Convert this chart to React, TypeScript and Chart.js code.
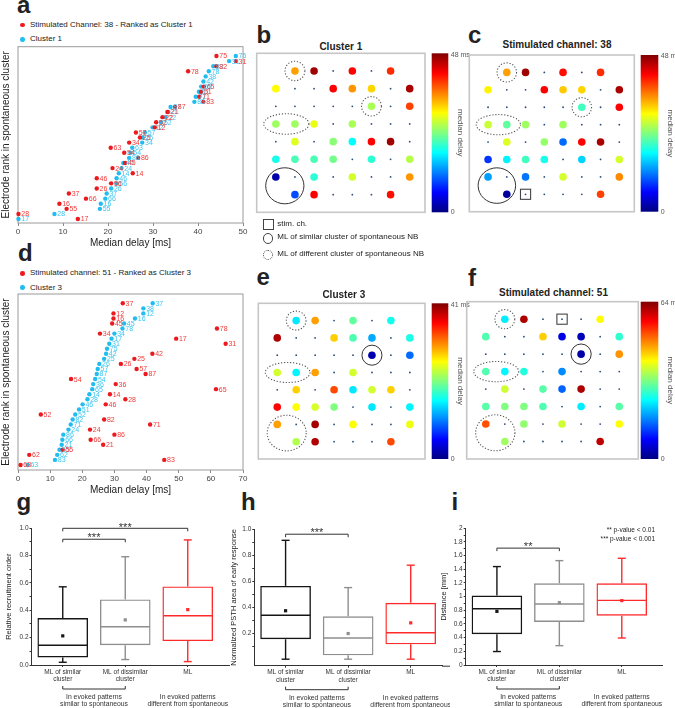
import React, { useEffect, useRef } from 'react';
import { Chart, registerables } from 'chart.js';

Chart.register(...registerables);

const FONT = '"Liberation Sans", Arial, Helvetica, sans-serif';
Chart.defaults.font.family = FONT;
Chart.defaults.color = '#333';

// ---------------- Panel a ----------------
const aRanks = [1, 2, 3, 4, 5, 6, 7, 8, 9, 10, 11, 12, 13, 14, 15, 16, 17, 18, 19, 20, 21, 22, 23, 24, 25, 26, 27, 28, 29, 30, 31, 32, 33];
const aElectrodes = ['17', '28', '55', '16', '66', '37', '26', '56', '46', '14', '24', '45', '86', '54', '63', '34', '25', '57', '12', '52', '22', '21', '87', '83', '71', '51', '65', '42', '38', '78', '82', '31', '75'];
const aClusterDelay = [0.1, 8.1, 18.2, 18.4, 19.4, 19.7, 20.7, 21.9, 21.9, 22.4, 23.0, 23.4, 24.7, 25.0, 25.4, 27.6, 27.7, 28.2, 29.9, 31.8, 32.8, 33.4, 33.9, 39.2, 39.5, 40.2, 40.7, 41.2, 41.7, 42.4, 43.4, 46.9, 48.4];
const aStimDelay: (number | null)[] = [13.3, 0.1, 10.8, 9.2, 15.1, 11.3, 17.5, 20.7, 17.5, 25.5, 21.0, 23.8, 26.7, 23.6, 20.6, 24.7, 27.1, 26.2, 30.4, 30.7, 32.1, 33.2, 34.9, 41.2, 40.3, 40.7, 41.3, null, null, 37.8, 44.1, 48.4, 44.1];

// ---------------- Panel d ----------------
const dRanks = [1, 2, 3, 4, 5, 6, 7, 8, 9, 10, 11, 12, 13, 14, 15, 16, 17, 18, 19, 20, 21, 22, 23, 24, 25, 26, 27, 28, 29, 30, 31, 32, 33];
const dElectrodes = ['63', '83', '62', '55', '21', '66', '86', '24', '71', '82', '52', '51', '46', '28', '14', '65', '36', '54', '87', '57', '26', '25', '42', '75', '31', '17', '34', '78', '45', '16', '12', '38', '37'];
const dClusterDelay = [3.0, 11.5, 12.2, 12.9, 13.6, 13.8, 14.1, 15.7, 16.4, 17.0, 17.8, 19.0, 20.1, 21.6, 22.2, 23.1, 23.4, 24.0, 24.5, 24.8, 25.3, 26.8, 27.4, 27.7, 28.4, 29.1, 30.0, 32.5, 33.0, 36.4, 39.0, 39.0, 41.9];
const dStimDelay: (number | null)[] = [0.8, 45.5, 3.5, 13.9, 26.5, 22.6, 30.0, 22.4, 41.1, 26.8, 7.1, null, 27.3, 33.4, 28.6, 61.6, 30.4, 16.5, 39.7, 36.9, 32.0, 36.2, 41.8, null, 64.6, 49.2, 25.5, 61.9, 29.3, 29.7, 29.7, null, 32.6];

// ---------------- Electrode maps (median delay, ms; null = not recruited) ----------------
const bDelays: (number | null)[][] = [
  [null, 34.5, 46.5, null, 42, null, 40, null],
  [30, null, null, 42, 35, 32, null, 46],
  [null, null, null, null, null, 26, null, 39],
  [25.5, 25.5, 29, null, 26, null, null, null],
  [null, 28.5, null, 24.5, 18, 42, 46.5, null],
  [19, 21.5, 21.5, 23.5, null, 20, null, 26.5],
  [2, null, 20, null, 28, null, null, 35],
  [null, 9.5, 42, null, null, null, 41.5, null],
];
const cDelays: (number | null)[][] = [
  [null, 34.5, 46.5, null, 41.5, null, 40, null],
  [30.5, null, null, 42, 32.5, 32, null, 46],
  [null, null, null, null, null, 21, null, 42],
  [27.5, 22.5, 25.5, null, 25.5, null, null, null],
  [null, 28.5, null, 25, 11, 42, 46, null],
  [8.5, 17.5, 21, 19, null, 16, null, 28],
  [13.5, null, 11.5, null, 28, null, null, 35.5],
  [null, 1.5, null, null, null, null, 39, null],
];
const eDelays: (number | null)[][] = [
  [null, 14.5, 29.5, null, 19.3, null, 16, null],
  [39, null, null, 27.5, 18.5, 12, null, 16.4],
  [null, null, null, null, null, 2, null, 9.4],
  [23.8, 15, 29.5, null, 23.8, null, null, null],
  [null, 27.5, null, 33, 14.5, 23.8, 27.5, null],
  [35.7, 25.6, 24, 20.5, null, 14.5, null, 15],
  [29.5, null, 39.5, null, 25.5, null, null, 25],
  [null, 22.5, 39, null, null, null, 33, null],
];
const fDelays: (number | null)[][] = [
  [null, 23, 61, null, null, null, 40, null],
  [29, null, null, 43, 6.4, 3.5, null, 27],
  [null, null, null, null, null, 2.6, null, 46.7],
  [29, 23.5, 26, null, 16.8, null, null, null],
  [null, 37, null, 29.5, 14.2, 61, null, null],
  [29.5, 32, 32, 29, null, 23, null, 29.5],
  [51, null, 33, null, 37, null, null, 40],
  [null, 34, null, null, null, null, 60, null],
];
const bMaxMs = 48;
const cMaxMs = 48;
const eMaxMs = 41;
const fMaxMs = 64;
const cStim: [number, number] = [8, 3];
const fStim: [number, number] = [1, 5];

type Ring = { col: number; row: number; rx: number; ry: number; dashed: boolean };
const cluster1Rings: Ring[] = [
  { col: 2, row: 1, rx: 0.52, ry: 0.55, dashed: true },
  { col: 6, row: 3, rx: 0.52, ry: 0.55, dashed: true },
  { col: 1.55, row: 4, rx: 1.18, ry: 0.58, dashed: true },
  { col: 1.47, row: 7.5, rx: 1.0, ry: 1.02, dashed: false },
];
const cluster3Rings: Ring[] = [
  { col: 2, row: 1, rx: 0.52, ry: 0.55, dashed: true },
  { col: 6, row: 3, rx: 0.53, ry: 0.58, dashed: false },
  { col: 1.55, row: 4, rx: 1.18, ry: 0.58, dashed: true },
  { col: 1.5, row: 7.5, rx: 1.03, ry: 1.03, dashed: true },
];

// ---------------- Box plots ----------------
const boxCategories = [['ML of similar', 'cluster'], ['ML of dissimilar', 'cluster'], 'ML'];
const gMin = [0.02, 0.04, 0.025];
const gQ1 = [0.055, 0.145, 0.175];
const gMedian = [0.145, 0.28, 0.36];
const gQ3 = [0.343, 0.48, 0.575];
const gMax = [0.572, 0.792, 0.915];
const gMean = [0.213, 0.33, 0.405];

const hMin = [0, 0, 0];
const hQ1 = [0.153, 0.03, 0.114];
const hMedian = [0.337, 0.163, 0.203];
const hQ3 = [0.563, 0.33, 0.433];
const hMax = [0.913, 0.55, 0.722];
const hMean = [0.372, 0.197, 0.279];

const iMin = [0.197, 0.283, 0.395];
const iQ1 = [0.45, 0.63, 0.722];
const iMedian = [0.823, 0.893, 0.946];
const iQ3 = [1.015, 1.195, 1.195];
const iMax = [1.44, 1.527, 1.561];
const iMean = [0.785, 0.912, 0.942];

const gBrackets = [
  { from: 0, to: 1, level: 0.92, text: '***' },
  { from: 0, to: 2, level: 1.0, text: '***' },
];
const hBrackets = [{ from: 0, to: 1, level: 0.96, text: '***' }];
const iBrackets = [{ from: 0, to: 1, level: 1.71, text: '**' }];
const groupLabels = [
  { from: 0, to: 1, lines: ['In evoked patterns', 'similar to spontaneous'] },
  { from: 2, to: 2, lines: ['In evoked patterns', 'different from spontaneous'] },
];

// ---------------- styling ----------------
const RED = '#ec1a1f';
const RED_TXT = '#f03a3a';
const CYAN = '#22bdf0';
const CYAN_TXT = '#3cc6f2';
const BOX_COLORS = ['#151515', '#8e8e8e', '#ff2b2b'];

function jet(f: number): string {
  const c = (x: number) => Math.round(255 * Math.max(0, Math.min(1, x)));
  return `rgb(${c(1.5 - Math.abs(4 * f - 3))},${c(1.5 - Math.abs(4 * f - 2))},${c(1.5 - Math.abs(4 * f - 1))})`;
}

function framePlugin(color: string, width: number) {
  return {
    id: 'frame',
    beforeDatasetsDraw(chart: any) {
      const { ctx, chartArea: a } = chart;
      ctx.save();
      ctx.strokeStyle = color;
      ctx.lineWidth = width;
      ctx.strokeRect(a.left, a.top, a.right - a.left, a.bottom - a.top);
      ctx.restore();
    },
  };
}

const pointLabelPlugin = {
  id: 'pointLabels',
  afterDatasetsDraw(chart: any) {
    const ctx = chart.ctx;
    ctx.save();
    ctx.font = `7px ${FONT}`;
    ctx.textBaseline = 'middle';
    ctx.textAlign = 'left';
    for (let di = chart.data.datasets.length - 1; di >= 0; di--) {
      const ds: any = chart.data.datasets[di];
      const meta = chart.getDatasetMeta(di);
      ctx.fillStyle = ds.labelColor;
      meta.data.forEach((pt: any, i: number) => {
        ctx.fillText(ds.data[i].label, pt.x + 2.8, pt.y + 0.5);
      });
    }
    ctx.restore();
  },
};

function rankConfig(p: {
  ranks: number[];
  electrodes: string[];
  cluster: number[];
  stim: (number | null)[];
  xMax: number;
  yMin: number;
  yMax: number;
  padTop: number;
  axisH: number;
  titlePad: number;
}) {
  const stimPts = p.ranks
    .map((r, i) => (p.stim[i] === null ? null : { x: p.stim[i], y: r, label: p.electrodes[i] }))
    .filter((v) => v !== null);
  const clusterPts = p.ranks.map((r, i) => ({ x: p.cluster[i], y: r, label: p.electrodes[i] }));
  return {
    type: 'scatter',
    data: {
      datasets: [
        { label: 'stim', data: stimPts, backgroundColor: RED, pointRadius: 2.2, pointBorderWidth: 0, clip: false, labelColor: RED_TXT },
        { label: 'cluster', data: clusterPts, backgroundColor: CYAN, pointRadius: 2.2, pointBorderWidth: 0, clip: false, labelColor: CYAN_TXT },
      ],
    },
    options: {
      responsive: false,
      animation: false,
      events: [],
      layout: { padding: { left: 0, top: p.padTop, right: 7, bottom: 0 } },
      plugins: { legend: { display: false }, tooltip: { enabled: false } },
      scales: {
        x: {
          type: 'linear',
          min: 0,
          max: p.xMax,
          ticks: { stepSize: 10, font: { size: 8 }, color: '#444', padding: 1 },
          grid: { display: true, drawOnChartArea: false, tickLength: 3, color: '#888' },
          border: { display: false },
          title: { display: true, text: 'Median delay [ms]', font: { size: 10 }, color: '#222', padding: { top: 0, bottom: p.titlePad } },
          afterFit: (s: any) => {
            s.height = p.axisH;
          },
        },
        y: {
          type: 'linear',
          min: p.yMin,
          max: p.yMax,
          ticks: { display: false },
          grid: { display: false },
          border: { display: false },
          title: { display: true, text: 'Electrode rank in spontaneous cluster', font: { size: 10 }, color: '#222', padding: { top: 0, bottom: 0 } },
          afterFit: (s: any) => {
            s.width = 18;
          },
        },
      },
    },
    plugins: [framePlugin('#9a9a9a', 1), pointLabelPlugin],
  };
}

function mapDecorPlugin(p: { rings: Ring[]; stim: [number, number] | null; maxMs: number; cbGap: number; cbWidth: number }) {
  return {
    id: 'mapDecor',
    afterDatasetsDraw(chart: any) {
      const { ctx, chartArea: a } = chart;
      const xs = chart.scales.x;
      const ys = chart.scales.y;
      const ux = Math.abs(xs.getPixelForValue(1) - xs.getPixelForValue(0));
      const uy = Math.abs(ys.getPixelForValue(1) - ys.getPixelForValue(0));
      ctx.save();
      p.rings.forEach((r) => {
        ctx.beginPath();
        ctx.ellipse(xs.getPixelForValue(r.col), ys.getPixelForValue(r.row), r.rx * ux, r.ry * uy, 0, 0, Math.PI * 2);
        ctx.strokeStyle = r.dashed ? '#555' : '#333';
        ctx.lineWidth = r.dashed ? 1.1 : 1;
        ctx.setLineDash(r.dashed ? [1.2, 1.8] : []);
        ctx.stroke();
      });
      ctx.setLineDash([]);
      if (p.stim) {
        const cx = xs.getPixelForValue(p.stim[1]);
        const cy = ys.getPixelForValue(p.stim[0]);
        const hx = 0.27 * ux;
        const hy = 0.29 * uy;
        ctx.strokeStyle = '#444';
        ctx.lineWidth = 1.1;
        ctx.strokeRect(cx - hx, cy - hy, hx * 2, hy * 2);
      }
      // colour bar
      const x0 = a.right + p.cbGap;
      const grad = ctx.createLinearGradient(0, a.bottom, 0, a.top);
      for (let k = 0; k <= 16; k++) grad.addColorStop(k / 16, jet(k / 16));
      ctx.fillStyle = grad;
      ctx.fillRect(x0, a.top, p.cbWidth, a.bottom - a.top);
      const xr = x0 + p.cbWidth;
      ctx.fillStyle = '#555';
      ctx.font = `7px ${FONT}`;
      ctx.textAlign = 'left';
      ctx.textBaseline = 'middle';
      ctx.fillText(`${p.maxMs} ms`, xr + 2.5, a.top + 1.5);
      ctx.fillText('0', xr + 2.5, a.bottom);
      ctx.translate(xr + 11.5, (a.top + a.bottom) / 2);
      ctx.rotate(Math.PI / 2);
      ctx.font = `8px ${FONT}`;
      ctx.textAlign = 'center';
      ctx.fillText('median delay', 0, 0);
      ctx.restore();
    },
  };
}

function mapConfig(p: {
  delays: (number | null)[][];
  maxMs: number;
  xMax: number;
  rings: Ring[];
  stim: [number, number] | null;
  pad: { left: number; top: number; right: number; bottom: number };
  cbGap: number;
  cbWidth: number;
}) {
  const big: { x: number; y: number }[] = [];
  const colors: string[] = [];
  const small: { x: number; y: number }[] = [];
  const last = p.delays.length - 1;
  p.delays.forEach((row, r) =>
    row.forEach((v, c) => {
      if ((r === 0 || r === last) && (c === 0 || c === row.length - 1)) return;
      if (v === null) small.push({ x: c + 1, y: r + 1 });
      else {
        big.push({ x: c + 1, y: r + 1 });
        colors.push(jet(v / p.maxMs));
      }
    })
  );
  return {
    type: 'scatter',
    data: {
      datasets: [
        { data: big, backgroundColor: colors, pointRadius: 3.8, pointBorderWidth: 0, clip: false },
        { data: small, backgroundColor: '#2b4a7e', pointRadius: 0.9, pointBorderWidth: 0, clip: false },
      ],
    },
    options: {
      responsive: false,
      animation: false,
      events: [],
      layout: { padding: p.pad },
      plugins: { legend: { display: false }, tooltip: { enabled: false } },
      scales: {
        x: { type: 'linear', display: false, min: 0, max: p.xMax },
        y: { type: 'linear', display: false, min: 0, max: 9, reverse: true },
      },
    },
    plugins: [framePlugin('#c6c6c6', 1.6), mapDecorPlugin(p)],
  };
}

type BoxP = {
  min: number[];
  q1: number[];
  median: number[];
  q3: number[];
  max: number[];
  mean: number[];
  yMin: number;
  yMax: number;
  yTitle: string;
  fmt: (v: number) => string;
  brackets: { from: number; to: number; level: number; text: string }[];
  pad: { left: number; top: number; right: number; bottom: number };
  yWidth: number;
  xHeight: number;
  axisExt: number;
};

function boxPlugin(p: BoxP) {
  return {
    id: 'boxExtras',
    afterDatasetsDraw(chart: any) {
      const { ctx, chartArea } = chart;
      const ys = chart.scales.y;
      const bars = chart.getDatasetMeta(0).data;
      const Y = (v: number) => ys.getPixelForValue(v);
      const seg = (x1: number, y1: number, x2: number, y2: number) => {
        ctx.beginPath();
        ctx.moveTo(x1, y1);
        ctx.lineTo(x2, y2);
        ctx.stroke();
      };
      ctx.save();
      // axis line continues a little past the last category, as in the original
      ctx.strokeStyle = '#333';
      ctx.lineWidth = 1;
      seg(chartArea.right, chartArea.bottom + 0.5, chartArea.right + p.axisExt, chartArea.bottom + 0.5);
      p.max.forEach((_, i) => {
        const b: any = bars[i];
        const x = b.x;
        const hw = b.width / 2;
        ctx.strokeStyle = BOX_COLORS[i];
        ctx.lineWidth = 1.4;
        seg(x, Y(p.max[i]), x, Y(p.q3[i]));
        seg(x, Y(p.q1[i]), x, Y(p.min[i]));
        seg(x - 4, Y(p.max[i]), x + 4, Y(p.max[i]));
        seg(x - 4, Y(p.min[i]), x + 4, Y(p.min[i]));
        seg(x - hw + 0.7, Y(p.median[i]), x + hw - 0.7, Y(p.median[i]));
        ctx.fillStyle = BOX_COLORS[i];
        const my = Y(p.mean[i]);
        ctx.fillRect(x - 1.6, my - 1.6, 3.2, 3.2);
      });
      ctx.strokeStyle = '#333';
      ctx.fillStyle = '#333';
      ctx.lineWidth = 1;
      ctx.textAlign = 'center';
      p.brackets.forEach((br) => {
        const x1 = (bars[br.from] as any).x;
        const x2 = (bars[br.to] as any).x;
        const y = Y(br.level);
        ctx.beginPath();
        ctx.moveTo(x1, y + 3);
        ctx.lineTo(x1, y);
        ctx.lineTo(x2, y);
        ctx.lineTo(x2, y + 3);
        ctx.stroke();
        ctx.font = `11px ${FONT}`;
        ctx.textBaseline = 'alphabetic';
        ctx.fillText(br.text, (x1 + x2) / 2, y + 2.2);
      });
      const base = chartArea.bottom;
      ctx.font = `6.8px ${FONT}`;
      ctx.textBaseline = 'middle';
      groupLabels.forEach((g) => {
        const x1 = (bars[g.from] as any).x;
        const x2 = (bars[g.to] as any).x;
        if (g.from !== g.to) {
          ctx.beginPath();
          ctx.moveTo(x1, base + 21);
          ctx.lineTo(x1, base + 24);
          ctx.lineTo(x2, base + 24);
          ctx.lineTo(x2, base + 21);
          ctx.stroke();
        }
        g.lines.forEach((ln, k) => ctx.fillText(ln, (x1 + x2) / 2, base + 32 + k * 7.6));
      });
      ctx.restore();
    },
  };
}

function boxConfig(p: BoxP) {
  return {
    type: 'bar',
    data: {
      labels: boxCategories,
      datasets: [
        {
          data: p.q1.map((q, i) => [q, p.q3[i]]),
          backgroundColor: 'rgba(255,255,255,0)',
          borderColor: BOX_COLORS,
          borderWidth: 1.4,
          borderSkipped: false,
          barPercentage: 0.81,
          categoryPercentage: 1,
        },
      ],
    },
    options: {
      responsive: false,
      animation: false,
      events: [],
      layout: { padding: p.pad },
      plugins: { legend: { display: false }, tooltip: { enabled: false } },
      scales: {
        x: {
          type: 'category',
          offset: true,
          grid: { display: true, drawOnChartArea: false, offset: false, tickLength: 2, color: '#333' },
          border: { display: true, color: '#333', width: 1 },
          ticks: { font: { size: 6.5 }, color: '#333', padding: 1, maxRotation: 0, autoSkip: false },
          afterFit: (s: any) => {
            s.height = p.xHeight;
          },
        },
        y: {
          type: 'linear',
          min: p.yMin,
          max: p.yMax,
          ticks: {
            stepSize: 0.1,
            autoSkip: false,
            font: { size: 6.5 },
            color: '#333',
            padding: 1,
            callback: (v: any) => (Math.round(Number(v) * 10) % 2 === 0 ? p.fmt(Number(v)) : ''),
          },
          afterBuildTicks: (s: any) => {
            s.ticks = s.ticks.filter((t: any) => t.value >= -1e-9);
          },
          grid: { display: true, drawOnChartArea: false, tickLength: 2, color: '#333' },
          border: { display: true, color: '#333', width: 1 },
          title: { display: true, text: p.yTitle, font: { size: 7.5 }, color: '#222', padding: { top: 4, bottom: 0 } },
          afterFit: (s: any) => {
            s.width = p.yWidth;
          },
        },
      },
    },
    plugins: [boxPlugin(p)],
  };
}

function ChartCanvas({ left, top, width, height, config }: { left: number; top: number; width: number; height: number; config: () => any }) {
  const ref = useRef<HTMLCanvasElement>(null);
  useEffect(() => {
    if (!ref.current) return;
    const chart = new Chart(ref.current, config());
    return () => chart.destroy();
  }, []);
  return <canvas ref={ref} width={width} height={height} style={{ position: 'absolute', left, top, width, height }} />;
}

function Txt({ x, y, children, size = 8, bold = false, align = 'left', color = '#222' }: { x: number; y: number; children: React.ReactNode; size?: number; bold?: boolean; align?: 'left' | 'center' | 'right'; color?: string }) {
  const tx = align === 'center' ? 'translateX(-50%)' : align === 'right' ? 'translateX(-100%)' : 'none';
  return (
    <div
      style={{
        position: 'absolute',
        left: x,
        top: y - 0.8465 * size,
        fontSize: size,
        lineHeight: `${size}px`,
        fontWeight: bold ? 700 : 400,
        whiteSpace: 'nowrap',
        color,
        transform: tx,
        fontFamily: FONT,
      }}
    >
      {children}
    </div>
  );
}

function Dot({ cx, cy, r, color }: { cx: number; cy: number; r: number; color: string }) {
  return <div style={{ position: 'absolute', left: cx - r, top: cy - r, width: 2 * r, height: 2 * r, borderRadius: '50%', background: color }} />;
}

export default function App() {
  const fmt1 = (v: number) => v.toFixed(1);
  const fmtI = (v: number) => String(Math.round(v * 10) / 10);
  return (
    <div style={{ position: 'absolute', left: 0, top: 0, width: 675, height: 708, background: '#fff', overflow: 'hidden', fontFamily: FONT }}>
      {/* panel letters */}
      <Txt x={17} y={13.5} size={24} bold>a</Txt>
      <Txt x={256.5} y={43.3} size={24} bold>b</Txt>
      <Txt x={468} y={43} size={24} bold>c</Txt>
      <Txt x={18} y={261.7} size={24} bold>d</Txt>
      <Txt x={256.5} y={285} size={24} bold>e</Txt>
      <Txt x={468} y={286.7} size={24} bold>f</Txt>
      <Txt x={16.5} y={510} size={24} bold>g</Txt>
      <Txt x={241} y={510} size={24} bold>h</Txt>
      <Txt x={451.5} y={510} size={24} bold>i</Txt>

      {/* panel a */}
      <Dot cx={22.7} cy={25} r={2.3} color={RED} />
      <Txt x={30} y={27.8}>Stimulated Channel: 38 - Ranked as Cluster 1</Txt>
      <Dot cx={22.7} cy={39.3} r={2.3} color={CYAN} />
      <Txt x={30} y={42.1}>Cluster 1</Txt>
      <ChartCanvas
        left={0}
        top={40}
        width={250}
        height={210}
        config={() =>
          rankConfig({ ranks: aRanks, electrodes: aElectrodes, cluster: aClusterDelay, stim: aStimDelay, xMax: 50, yMin: 0.22, yMax: 34.83, padTop: 6.7, axisH: 27, titlePad: 1 })
        }
      />

      {/* panel d */}
      <Dot cx={22.7} cy={273.3} r={2.3} color={RED} />
      <Txt x={30} y={276.1}>Stimulated channel: 51 - Ranked as Cluster 3</Txt>
      <Dot cx={22.7} cy={287.7} r={2.3} color={CYAN} />
      <Txt x={30} y={290.5}>Cluster 3</Txt>
      <ChartCanvas
        left={0}
        top={288}
        width={250}
        height={210}
        config={() =>
          rankConfig({ ranks: dRanks, electrodes: dElectrodes, cluster: dClusterDelay, stim: dStimDelay, xMax: 70, yMin: 0, yMax: 34.84, padTop: 6, axisH: 28, titlePad: 2 })
        }
      />

      {/* maps */}
      <Txt x={340.8} y={50} size={10} bold align="center">Cluster 1</Txt>
      <ChartCanvas
        left={250}
        top={40}
        width={225}
        height={180}
        config={() => mapConfig({ delays: bDelays, maxMs: bMaxMs, xMax: 8.8, rings: cluster1Rings, stim: null, pad: { left: 6.7, top: 13.3, right: 50, bottom: 7.7 }, cbGap: 6.7, cbWidth: 16.6 })}
      />
      <Txt x={557} y={48.5} size={10} bold align="center">Stimulated channel: 38</Txt>
      <ChartCanvas
        left={462}
        top={40}
        width={213}
        height={180}
        config={() => mapConfig({ delays: cDelays, maxMs: cMaxMs, xMax: 8.8, rings: cluster1Rings, stim: cStim, pad: { left: 7.3, top: 15, right: 40.7, bottom: 8.3 }, cbGap: 6.4, cbWidth: 17.6 })}
      />

      {/* map legend */}
      <div style={{ position: 'absolute', left: 262.7, top: 219.3, width: 9, height: 8.5, border: '1px solid #444' }} />
      <Txt x={277.3} y={227}>stim. ch.</Txt>
      <div style={{ position: 'absolute', left: 262.8, top: 233.2, width: 8.5, height: 8.5, border: '1px solid #444', borderRadius: '50%' }} />
      <Txt x={277.3} y={240}>ML of similar cluster of spontaneous NB</Txt>
      <div style={{ position: 'absolute', left: 262.8, top: 249.7, width: 8.5, height: 8.5, border: '1px dotted #444', borderRadius: '50%' }} />
      <Txt x={277.3} y={256.5}>ML of different cluster of spontaneous NB</Txt>

      <Txt x={343.8} y={298.3} size={10} bold align="center">Cluster 3</Txt>
      <ChartCanvas
        left={250}
        top={290}
        width={225}
        height={180}
        config={() => mapConfig({ delays: eDelays, maxMs: eMaxMs, xMax: 8.8, rings: cluster3Rings, stim: null, pad: { left: 8.3, top: 13.3, right: 50, bottom: 11 }, cbGap: 6.7, cbWidth: 16.6 })}
      />
      <Txt x={553.5} y={296.7} size={10} bold align="center">Stimulated channel: 51</Txt>
      <ChartCanvas
        left={460}
        top={290}
        width={215}
        height={180}
        config={() => mapConfig({ delays: fDelays, maxMs: fMaxMs, xMax: 9, rings: cluster3Rings, stim: fStim, pad: { left: 6.7, top: 11.7, right: 36.7, bottom: 11 }, cbGap: 2.4, cbWidth: 17.6 })}
      />

      {/* box plots */}
      <ChartCanvas
        left={0}
        top={505}
        width={232}
        height={203}
        config={() =>
          boxConfig({ min: gMin, q1: gQ1, median: gMedian, q3: gQ3, max: gMax, mean: gMean, yMin: 0, yMax: 1, yTitle: 'Relative recruitment order', fmt: fmt1, brackets: gBrackets, pad: { left: 0, top: 23.3, right: 13, bottom: 0 }, yWidth: 31.5, xHeight: 43, axisExt: 11 })
        }
      />
      <ChartCanvas
        left={225}
        top={505}
        width={225}
        height={203}
        config={() =>
          boxConfig({ min: hMin, q1: hQ1, median: hMedian, q3: hQ3, max: hMax, mean: hMean, yMin: -0.05, yMax: 1, yTitle: 'Normalized PSTH area of early response', fmt: fmt1, brackets: hBrackets, pad: { left: 0, top: 24, right: 8, bottom: 0 }, yWidth: 29.3, xHeight: 42.3, axisExt: 8 })
        }
      />
      <ChartCanvas
        left={435}
        top={505}
        width={240}
        height={203}
        config={() =>
          boxConfig({ min: iMin, q1: iQ1, median: iMedian, q3: iQ3, max: iMax, mean: iMean, yMin: 0, yMax: 2, yTitle: 'Distance [mm]', fmt: fmtI, brackets: iBrackets, pad: { left: 0, top: 23.3, right: 22, bottom: 0 }, yWidth: 30.7, xHeight: 43, axisExt: 10 })
        }
      />
      <Txt x={655} y={532.5} size={6.5} align="right">** p-value &lt; 0.01</Txt>
      <Txt x={655} y={541.5} size={6.5} align="right">*** p-value &lt; 0.001</Txt>
    </div>
  );
}
